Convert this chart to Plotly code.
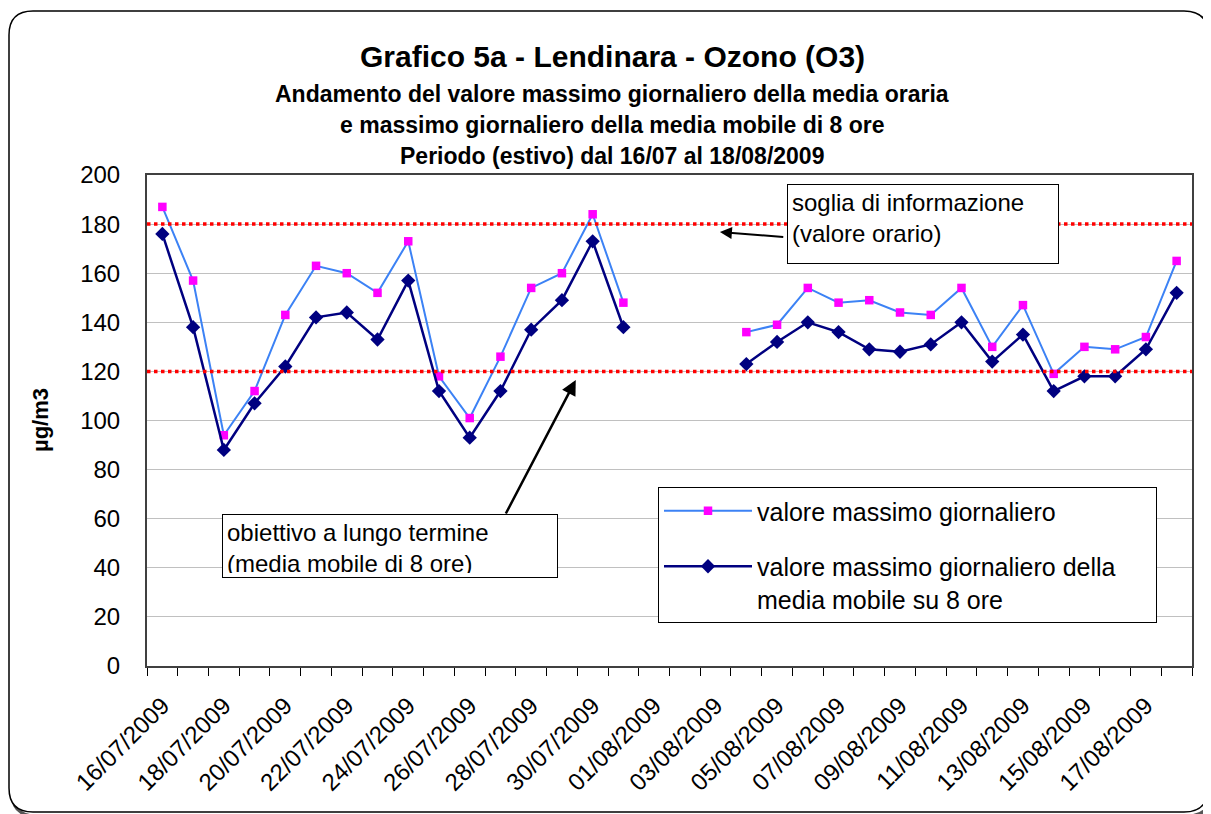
import plotly.graph_objects as go

dates = ["16/07/2009", "17/07/2009", "18/07/2009", "19/07/2009", "20/07/2009", "21/07/2009",
         "22/07/2009", "23/07/2009", "24/07/2009", "25/07/2009", "26/07/2009", "27/07/2009",
         "28/07/2009", "29/07/2009", "30/07/2009", "31/07/2009", "01/08/2009", "02/08/2009",
         "03/08/2009", "04/08/2009", "05/08/2009", "06/08/2009", "07/08/2009", "08/08/2009",
         "09/08/2009", "10/08/2009", "11/08/2009", "12/08/2009", "13/08/2009", "14/08/2009",
         "15/08/2009", "16/08/2009", "17/08/2009", "18/08/2009"]

max_orario = [187, 157, 94, 112, 143, 163, 160, 152, 173, 118, 101, 126, 154, 160, 184, 148,
              None, None, None,
              136, 139, 154, 148, 149, 144, 143, 154, 130, 147, 119, 130, 129, 134, 165]

max_media8h = [176, 138, 88, 107, 122, 142, 144, 133, 157, 112, 93, 112, 137, 149, 173, 138,
               None, None, None,
               123, 132, 140, 136, 129, 128, 131, 140, 124, 135, 112, 118, 118, 129, 152]

soglia_informazione = 180
obiettivo_lungo_termine = 120

y_ticks = list(range(0, 201, 20))

idx = list(range(len(dates)))
label_idx = idx[::2]
FONT = "Liberation Sans, Arial, sans-serif"

# page has an 8px body margin; work in reference (screen) pixels
OFF = 8
W, H = 1211 - OFF, 814 - OFF
L, R, T, B = 147 - OFF, 19, 175 - OFF, 148
PW, PH = W - L - R, H - T - B


def px(x):
    return (x - OFF - L) / PW


def py(y):
    return (H - B - (y - OFF)) / PH


PAD = "\u00a0" * 5  # invisible right padding inside the legend box

fig = go.Figure()
fig.add_trace(go.Scatter(
    x=idx, y=max_orario, mode="lines+markers", name="valore massimo giornaliero",
    line=dict(color="#3C82F5", width=2),
    marker=dict(symbol="square", size=8.5, color="#FF00FF"),
    connectgaps=False, legendgroup="a"))
fig.add_trace(go.Scatter(
    x=idx, y=max_media8h, mode="lines+markers",
    name="valore massimo giornaliero della" + PAD + "<br>media mobile su 8 ore",
    line=dict(color="#000080", width=2.5),
    marker=dict(symbol="diamond", size=11, color="#000080"),
    connectgaps=False, legendgroup="b"))

for yv in (soglia_informazione, obiettivo_lungo_termine):
    fig.add_shape(type="line", xref="paper", yref="y", x0=0, x1=1, y0=yv, y1=yv,
                  line=dict(color="#FF0000", width=3.5, dash="dot"), layer="above")

# outer rounded frame (with a light shadow)
def frame(xa, xb, ya, yb, rr):
    x0, x1, y0, y1 = px(xa), px(xb), py(ya), py(yb)
    rx, ry = rr / PW, rr / PH
    return (f"M {x0+rx},{y0} L {x1-rx},{y0} Q {x1},{y0} {x1},{y0-ry} "
            f"L {x1},{y1+ry} Q {x1},{y1} {x1-rx},{y1} L {x0+rx},{y1} Q {x0},{y1} {x0},{y1+ry} "
            f"L {x0},{y0-ry} Q {x0},{y0} {x0+rx},{y0} Z")


fig.add_shape(type="path", xref="paper", yref="paper", path=frame(12, 1211, 14, 816, 24),
              line=dict(color="#555555", width=3), layer="below")
fig.add_shape(type="path", xref="paper", yref="paper", path=frame(9, 1208, 11, 812, 24),
              line=dict(color="black", width=1.5), fillcolor="white", layer="below")

anns = []
anns.append(dict(text="<b>Grafico 5a - Lendinara - Ozono (O3)</b>", x=px(612), y=py(56),
                 xref="paper", yref="paper", showarrow=False, font=dict(size=30, family=FONT),
                 xanchor="center", yanchor="middle"))
for t, yy in [("Andamento del valore massimo giornaliero della media oraria", 94),
              ("e massimo giornaliero della media mobile di 8 ore", 125),
              ("Periodo (estivo) dal 16/07 al 18/08/2009", 156)]:
    anns.append(dict(text=f"<b>{t}</b>", x=px(612), y=py(yy), xref="paper", yref="paper",
                     showarrow=False, font=dict(size=23, family=FONT),
                     xanchor="center", yanchor="middle"))
anns.append(dict(text="<b>µg/m3</b>", x=px(40), y=py(420), xref="paper", yref="paper",
                 showarrow=False, textangle=-90, font=dict(size=22, family=FONT),
                 xanchor="center", yanchor="middle"))
# text boxes
anns.append(dict(text="soglia di informazione<br>(valore orario)", x=px(787), y=py(184),
                 xref="paper", yref="paper", showarrow=False, xanchor="left", yanchor="top",
                 align="left", valign="top", width=262, height=70, borderpad=4,
                 bgcolor="white", bordercolor="black", borderwidth=1,
                 font=dict(size=24, family=FONT)))
anns.append(dict(text="obiettivo a lungo termine<br>(media mobile di 8 ore)", x=px(222), y=py(514),
                 xref="paper", yref="paper", showarrow=False, xanchor="left", yanchor="top",
                 align="left", valign="top", width=326, height=54, borderpad=4,
                 bgcolor="white", bordercolor="black", borderwidth=1,
                 font=dict(size=24, family=FONT)))
# arrows
anns.append(dict(text="", x=18.14, y=176.8, ax=20.25, ay=174.7, xref="x", yref="y",
                 axref="x", ayref="y", showarrow=True, arrowhead=2, arrowsize=1.2,
                 arrowwidth=2, arrowcolor="black"))
anns.append(dict(text="", x=13.45, y=116.5, ax=11.15, ay=61.5, xref="x", yref="y",
                 axref="x", ayref="y", showarrow=True, arrowhead=2, arrowsize=1.2,
                 arrowwidth=2.5, arrowcolor="black"))

fig.update_layout(
    width=W, height=H, margin=dict(l=L, r=R, t=T, b=B),
    paper_bgcolor="rgba(0,0,0,0)", plot_bgcolor="#FFFF99",
    font=dict(family=FONT, color="black"),
    showlegend=True,
    legend=dict(x=px(658), y=py(487), xanchor="left", yanchor="top",
                bgcolor="white", bordercolor="black", borderwidth=1,
                font=dict(size=25, family=FONT), itemwidth=88, valign="top",
                traceorder="grouped", tracegroupgap=20),
    annotations=anns,
    xaxis=dict(range=[-0.5, len(dates) - 0.5], tickmode="array", tickvals=label_idx,
               ticktext=[dates[i] for i in label_idx], tickangle=-45, ticks="",
               tickfont=dict(size=24, family=FONT), showgrid=False, zeroline=False,
               showline=True, linecolor="#404040", linewidth=2, mirror=True,
               ticklabelstandoff=14,
               minor=dict(tickmode="linear", tick0=-0.5, dtick=1, ticks="outside",
                          ticklen=8, tickcolor="black", tickwidth=1, showgrid=False)),
    yaxis=dict(range=[0, 200], tickmode="array", tickvals=y_ticks, ticks="",
               tickfont=dict(size=24, family=FONT), showgrid=True, gridcolor="#C0C0C0",
               gridwidth=1, zeroline=False, showline=True, linecolor="#404040",
               linewidth=2, mirror=True, ticklabelstandoff=20),
)

fig.write_html("out.html")
